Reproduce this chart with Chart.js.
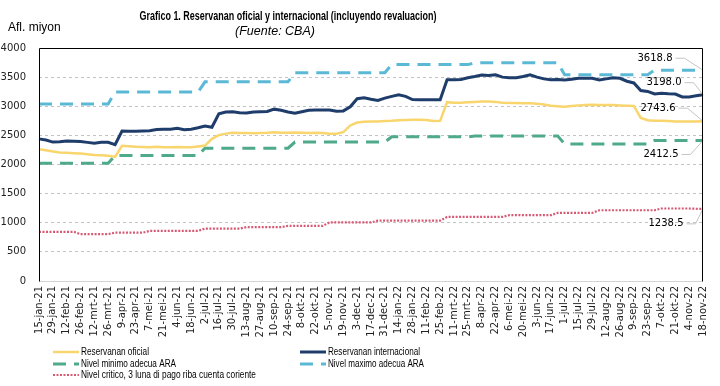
<!DOCTYPE html>
<html lang="pap">
<head>
<meta charset="UTF-8">
<title>Grafico 1. Reservanan oficial y internacional</title>
<script src="https://cdn.jsdelivr.net/npm/chart.js"></script>
<style>
  html, body { margin: 0; padding: 0; background: #fff; }
  #wrap { width: 720px; height: 386px; }
</style>
</head>
<body>
<div id="wrap"><canvas id="chart" width="720" height="386"></canvas></div>
<script>
// weekly dates, one label every two weeks is shown on the axis
const weeks = [
  '15-jan-21','22-jan-21','29-jan-21','5-feb-21','12-feb-21','19-feb-21','26-feb-21','5-mrt-21','12-mrt-21','19-mrt-21',
  '26-mrt-21','2-apr-21','9-apr-21','16-apr-21','23-apr-21','30-apr-21','7-mei-21','14-mei-21','21-mei-21','28-mei-21',
  '4-jun-21','11-jun-21','18-jun-21','25-jun-21','2-jul-21','9-jul-21','16-jul-21','23-jul-21','30-jul-21','6-aug-21',
  '13-aug-21','20-aug-21','27-aug-21','3-sep-21','10-sep-21','17-sep-21','24-sep-21','1-okt-21','8-okt-21','15-okt-21',
  '22-okt-21','29-okt-21','5-nov-21','12-nov-21','19-nov-21','26-nov-21','3-dec-21','10-dec-21','17-dec-21','24-dec-21',
  '31-dec-21','7-jan-22','14-jan-22','21-jan-22','28-jan-22','4-feb-22','11-feb-22','18-feb-22','25-feb-22','4-mrt-22',
  '11-mrt-22','18-mrt-22','25-mrt-22','1-apr-22','8-apr-22','15-apr-22','22-apr-22','29-apr-22','6-mei-22','13-mei-22',
  '20-mei-22','27-mei-22','3-jun-22','10-jun-22','17-jun-22','24-jun-22','1-jul-22','8-jul-22','15-jul-22','22-jul-22',
  '29-jul-22','5-aug-22','12-aug-22','19-aug-22','26-aug-22','2-sep-22','9-sep-22','16-sep-22','23-sep-22','30-sep-22',
  '7-okt-22','14-okt-22','21-okt-22','28-okt-22','4-nov-22','11-nov-22','18-nov-22'
];

const seriesNames = [
  'Reservanan oficial',
  'Reservanan internacional',
  'Nivel minimo adecua ARA',
  'Nivel maximo adecua ARA',
  'Nivel critico, 3 luna di pago riba cuenta coriente'
];

const reservaOficial = [
  2260, 2245, 2225, 2205, 2200, 2195, 2190, 2175, 2165, 2160,
  2150, 2130, 2320, 2315, 2305, 2300, 2295, 2305, 2295, 2295,
  2300, 2295, 2295, 2310, 2325, 2440, 2505, 2530, 2545, 2540,
  2540, 2535, 2540, 2545, 2555, 2545, 2545, 2550, 2545, 2540,
  2545, 2540, 2530, 2530, 2555, 2670, 2720, 2735, 2740, 2740,
  2745, 2750, 2760, 2765, 2770, 2770, 2765, 2745, 2750, 3070,
  3060, 3060, 3070, 3075, 3080, 3080, 3075, 3060, 3055, 3055,
  3050, 3050, 3045, 3030, 3010, 3000, 2990, 3005, 3015, 3020,
  3025, 3020, 3020, 3020, 3015, 3010, 3005, 2800, 2760, 2750,
  2750, 2745, 2740, 2740, 2738, 2740, 2743.6
];

const reservaInternacional = [
  2440, 2420, 2385, 2390, 2405, 2400, 2395, 2380, 2365, 2380,
  2380, 2340, 2575, 2570, 2570, 2575, 2580, 2600, 2605, 2605,
  2620, 2595, 2605, 2630, 2660, 2640, 2870, 2900, 2905, 2890,
  2885, 2900, 2905, 2910, 2950, 2930, 2900, 2880, 2905, 2930,
  2935, 2935, 2935, 2915, 2920, 2990, 3130, 3145, 3120, 3100,
  3140, 3170, 3195, 3170, 3115, 3110, 3110, 3110, 3110, 3455,
  3455, 3460, 3490, 3510, 3535, 3530, 3540, 3500, 3490, 3490,
  3510, 3540, 3500, 3470, 3455, 3460, 3450, 3465, 3480, 3480,
  3480, 3450, 3470, 3490, 3480, 3430, 3400, 3270, 3255, 3210,
  3225, 3215, 3210, 3160, 3160, 3180, 3198.0
];

const nivelMinimo = [
  2020, 2020, 2020, 2020, 2020, 2020, 2020, 2020, 2020, 2020,
  2020, 2155, 2155, 2155, 2155, 2155, 2155, 2155, 2155, 2155,
  2155, 2155, 2155, 2155, 2280, 2280, 2280, 2280, 2280, 2280,
  2280, 2280, 2280, 2280, 2280, 2280, 2280, 2385, 2385, 2385,
  2385, 2385, 2385, 2385, 2385, 2385, 2385, 2385, 2385, 2385,
  2385, 2475, 2475, 2475, 2475, 2475, 2475, 2475, 2475, 2475,
  2475, 2475, 2475, 2490, 2490, 2490, 2490, 2490, 2490, 2490,
  2490, 2490, 2490, 2490, 2490, 2490, 2350, 2350, 2350, 2350,
  2350, 2350, 2350, 2350, 2350, 2350, 2350, 2350, 2350, 2412.5,
  2412.5, 2412.5, 2412.5, 2412.5, 2412.5, 2412.5, 2412.5
];

const nivelMaximo = [
  3040, 3040, 3040, 3040, 3040, 3040, 3040, 3040, 3040, 3040,
  3040, 3245, 3245, 3245, 3245, 3245, 3245, 3245, 3245, 3245,
  3245, 3245, 3245, 3245, 3420, 3420, 3420, 3420, 3420, 3420,
  3420, 3420, 3420, 3420, 3420, 3420, 3420, 3575, 3575, 3575,
  3575, 3575, 3575, 3575, 3575, 3575, 3575, 3575, 3575, 3575,
  3575, 3715, 3715, 3715, 3715, 3715, 3715, 3715, 3715, 3715,
  3715, 3715, 3715, 3745, 3745, 3745, 3745, 3745, 3745, 3745,
  3745, 3745, 3745, 3745, 3745, 3745, 3540, 3540, 3540, 3540,
  3540, 3540, 3540, 3540, 3540, 3540, 3540, 3540, 3540, 3618.8,
  3618.8, 3618.8, 3618.8, 3618.8, 3618.8, 3618.8, 3618.8
];

const nivelCritico = [
  845, 845, 845, 845, 845, 845, 805, 805, 805, 805,
  805, 830, 830, 830, 830, 830, 860, 860, 860, 860,
  860, 860, 860, 860, 900, 900, 900, 900, 900, 900,
  925, 925, 925, 925, 925, 925, 945, 945, 945, 945,
  945, 945, 1005, 1005, 1005, 1005, 1005, 1005, 1005, 1035,
  1035, 1035, 1035, 1035, 1035, 1035, 1035, 1035, 1035, 1100,
  1100, 1100, 1100, 1100, 1100, 1100, 1100, 1100, 1130, 1130,
  1130, 1130, 1130, 1130, 1130, 1170, 1170, 1170, 1170, 1170,
  1170, 1215, 1215, 1215, 1215, 1215, 1215, 1215, 1215, 1215,
  1245, 1245, 1245, 1245, 1245, 1240, 1238.5
];

// value labels at the end of each line, with grey leader lines
const endLabels = [
  { ds: 3, dx: -48, dy: -12 },
  { ds: 1, dx: -39, dy: -12 },
  { ds: 0, dx: -45, dy: -13 },
  { ds: 2, dx: -42, dy: 14 },
  { ds: 4, dx: -37, dy: 15 }
];

// legend slots (2 columns, 3 rows)
const legendSlots = [
  { ds: 0, x: 53, y: 352, w: 68 },
  { ds: 1, x: 300, y: 352, w: 92 },
  { ds: 2, x: 53, y: 364, w: 95 },
  { ds: 3, x: 300, y: 364, w: 96 },
  { ds: 4, x: 53, y: 375, w: 175 }
];

const decorPlugin = {
  id: 'decor',
  afterDatasetsDraw(chart) {
    const ctx = chart.ctx;
    ctx.save();
    ctx.font = '10px "DejaVu Sans"';
    ctx.textBaseline = 'middle';
    ctx.textAlign = 'center';
    endLabels.forEach(l => {
      const meta = chart.getDatasetMeta(l.ds);
      const pt = meta.data[meta.data.length - 1];
      const vals = chart.data.datasets[l.ds].data;
      const txt = vals[vals.length - 1].toFixed(1);
      const cx = pt.x + l.dx, cy = pt.y + l.dy;
      const w = ctx.measureText(txt).width;
      ctx.strokeStyle = '#c4c4c4';
      ctx.lineWidth = 1;
      ctx.setLineDash([]);
      ctx.beginPath();
      ctx.moveTo(cx + w / 2 + 3, cy);
      ctx.lineTo(cx + w / 2 + 12, cy);
      ctx.lineTo(pt.x, pt.y);
      ctx.stroke();
      ctx.fillStyle = '#000';
      ctx.fillText(txt, cx, cy);
    });
    ctx.restore();
  },
  afterDraw(chart) {
    const ctx = chart.ctx;
    const a = chart.chartArea;
    ctx.save();

    // frame round the plot: black top/left/right, light grey bottom
    ctx.setLineDash([]);
    ctx.lineWidth = 1;
    const L = Math.round(a.left) + 0.5, R = Math.round(a.right) - 0.5;
    const T = Math.round(a.top) + 0.5, B = Math.round(a.bottom) + 0.5;
    ctx.strokeStyle = '#d4d4d4';
    ctx.beginPath();
    ctx.moveTo(L, B);
    ctx.lineTo(R, B);
    ctx.stroke();
    ctx.strokeStyle = '#000000';
    ctx.beginPath();
    ctx.moveTo(L, B);
    ctx.lineTo(L, T);
    ctx.lineTo(R, T);
    ctx.lineTo(R, B);
    ctx.stroke();

    ctx.fillStyle = '#000';
    ctx.textBaseline = 'middle';

    ctx.textAlign = 'center';
    ctx.font = 'bold 13.5px "Liberation Sans Narrow", "Liberation Sans"';
    ctx.fillText('Grafico 1. Reservanan oficial y internacional (incluyendo revaluacion)', 288, 16, 297);
    ctx.font = 'italic 12.5px "Liberation Sans"';
    ctx.fillText('(Fuente: CBA)', 275, 32, 80);

    ctx.textAlign = 'left';
    ctx.font = '12px "Liberation Sans"';
    ctx.fillText('Afl. miyon', 8, 28, 55);

    // legend
    ctx.font = '10.5px "Liberation Sans Narrow", "Liberation Sans"';
    legendSlots.forEach(s => {
      const ds = chart.data.datasets[s.ds];
      ctx.save();
      ctx.strokeStyle = ds.borderColor;
      ctx.lineWidth = ds.borderWidth;
      ctx.setLineDash(ds.borderDash || []);
      ctx.beginPath();
      ctx.moveTo(s.x, s.y);
      ctx.lineTo(s.x + 26, s.y);
      ctx.stroke();
      ctx.restore();
      ctx.fillStyle = '#000';
      ctx.fillText(ds.label, s.x + 28, s.y, s.w);
    });
    ctx.restore();
  }
};

new Chart(document.getElementById('chart'), {
  type: 'line',
  data: {
    labels: weeks,
    datasets: [
      { label: seriesNames[0], data: reservaOficial, borderColor: '#F9D56E', borderWidth: 2.5 },
      { label: seriesNames[1], data: reservaInternacional, borderColor: '#1F3D6B', borderWidth: 3 },
      { label: seriesNames[2], data: nivelMinimo, borderColor: '#4FA98B', borderWidth: 3, borderDash: [13, 8] },
      { label: seriesNames[3], data: nivelMaximo, borderColor: '#5CB9D6', borderWidth: 3, borderDash: [13, 8] },
      { label: seriesNames[4], data: nivelCritico, borderColor: '#D65A74', borderWidth: 2.2, borderDash: [2, 1.5] }
    ]
  },
  options: {
    responsive: false,
    animation: false,
    devicePixelRatio: 1,
    layout: { padding: { top: 48, right: 12, bottom: 0, left: 0 } },
    elements: {
      point: { radius: 0, hoverRadius: 0 },
      line: { tension: 0, fill: false, borderCapStyle: 'butt' }
    },
    plugins: {
      legend: { display: false },
      tooltip: { enabled: false },
      title: { display: false }
    },
    scales: {
      x: {
        grid: { display: false, drawTicks: false },
        border: { display: false },
        ticks: {
          autoSkip: false,
          maxRotation: 90,
          minRotation: 90,
          padding: 5,
          color: '#222',
          font: { family: 'DejaVu Sans', size: 10 },
          callback: (v, i) => (i % 2 === 0 ? weeks[i] : null)
        },
        afterFit: s => { s.height = 105; }
      },
      y: {
        min: 0,
        max: 4000,
        ticks: {
          stepSize: 500,
          padding: 13,
          color: '#222',
          font: { family: 'DejaVu Sans', size: 10 },
          callback: v => String(v)
        },
        grid: {
          drawTicks: false,
          color: c => (c.tick && (c.tick.value === 0 || c.tick.value === 4000)) ? 'rgba(0,0,0,0)' : '#c3c3c3'
        },
        border: { display: false, dash: [3, 3] },
        afterFit: s => { s.width = 39; }
      }
    }
  },
  plugins: [decorPlugin]
});
</script>
</body>
</html>
